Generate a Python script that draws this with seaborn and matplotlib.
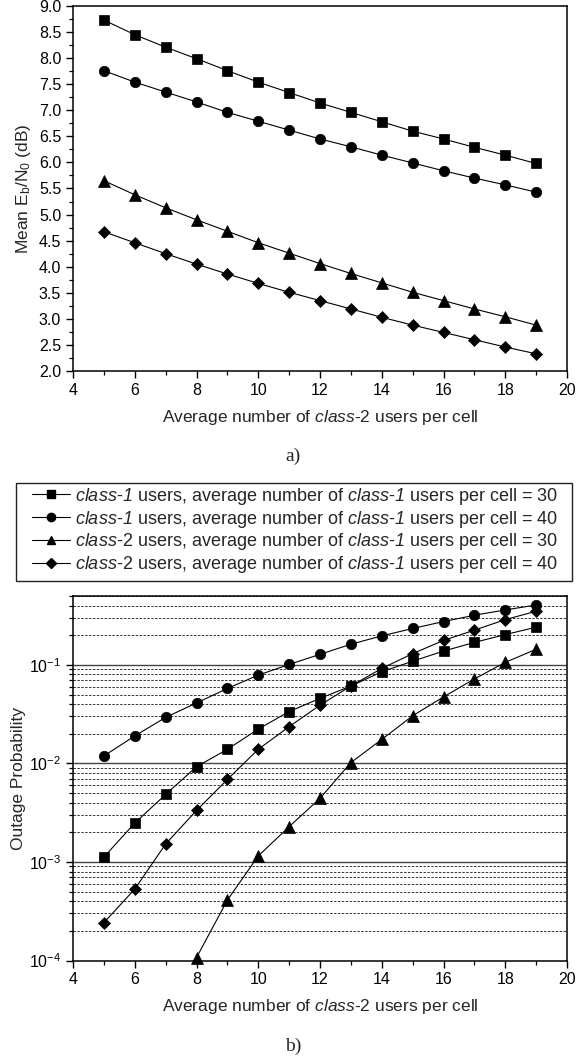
import numpy as np
import pandas as pd
import matplotlib
matplotlib.use("Agg")
import matplotlib.pyplot as plt
import seaborn as sns
from matplotlib.lines import Line2D
from matplotlib.patches import Rectangle
from matplotlib.ticker import MultipleLocator, FixedLocator, NullFormatter, FormatStrFormatter, LogFormatterSciNotation

# ---- data -------------------------------------------------------------
users_class2 = [5, 6, 7, 8, 9, 10, 11, 12, 13, 14, 15, 16, 17, 18, 19]
users_class2_tri = [8, 9, 10, 11, 12, 13, 14, 15, 16, 17, 18, 19]

# mean Eb/N0 (dB)
ebn0_c1_30 = [8.73, 8.45, 8.21, 7.99, 7.76, 7.54, 7.34, 7.14, 6.96, 6.78, 6.60, 6.45, 6.29, 6.14, 5.98]
ebn0_c1_40 = [7.76, 7.54, 7.35, 7.16, 6.96, 6.79, 6.62, 6.45, 6.30, 6.14, 5.99, 5.84, 5.70, 5.57, 5.43]
ebn0_c2_30 = [5.65, 5.38, 5.13, 4.90, 4.68, 4.46, 4.26, 4.06, 3.87, 3.69, 3.51, 3.35, 3.19, 3.04, 2.88]
ebn0_c2_40 = [4.67, 4.46, 4.25, 4.05, 3.86, 3.68, 3.51, 3.35, 3.19, 3.03, 2.88, 2.74, 2.60, 2.46, 2.33]

# outage probability
out_c1_30 = [1.12e-3, 2.48e-3, 4.84e-3, 9.25e-3, 0.0139, 0.0223, 0.0336, 0.0457, 0.061, 0.085,
             0.109, 0.138, 0.169, 0.203, 0.241]
out_c1_40 = [0.0119, 0.0190, 0.0293, 0.0411, 0.0576, 0.0787, 0.101, 0.128, 0.162, 0.197,
             0.234, 0.275, 0.319, 0.361, 0.405]
out_c2_30 = [1.07e-4, 4.1e-4, 1.15e-3, 2.28e-3, 4.42e-3, 0.0102, 0.0175, 0.0304, 0.0473, 0.072,
             0.106, 0.144]
out_c2_40 = [2.42e-4, 5.3e-4, 1.52e-3, 3.33e-3, 6.87e-3, 0.0139, 0.0236, 0.039, 0.061, 0.092,
             0.130, 0.177, 0.225, 0.288, 0.35]

# \mathsf is mapped to the italic face so that digits are slanted as well
series_labels = [
    r"$\mathsf{class}$-$\mathsf{1}$ users, average number of $\mathsf{class}$-$\mathsf{1}$ users per cell = 30",
    r"$\mathsf{class}$-$\mathsf{1}$ users, average number of $\mathsf{class}$-$\mathsf{1}$ users per cell = 40",
    r"$\mathsf{class}$-2 users, average number of $\mathsf{class}$-$\mathsf{1}$ users per cell = 30",
    r"$\mathsf{class}$-2 users, average number of $\mathsf{class}$-$\mathsf{1}$ users per cell = 40",
]
xlabel_text = r"Average number of $\mathsf{class}$-2 users per cell"

# ---- style --------------------------------------------------------------
sns.set_style("ticks")
plt.rcParams["font.family"] = ["Liberation Sans", "DejaVu Sans"]
plt.rcParams["mathtext.fontset"] = "custom"
plt.rcParams["mathtext.rm"] = "Liberation Sans"
plt.rcParams["mathtext.it"] = "Liberation Sans:italic"
plt.rcParams["mathtext.sf"] = "Liberation Sans:italic"
plt.rcParams["mathtext.bf"] = "Liberation Sans:bold"
plt.rcParams["axes.edgecolor"] = "black"
plt.rcParams["axes.linewidth"] = 1.1
plt.rcParams["xtick.color"] = "black"
plt.rcParams["ytick.color"] = "black"

markers = ["s", "o", "^", "D"]
msizes = [6.5, 7.5, 8.0, 6.0]
LW = 0.8
LABEL_FS = 12.5
LEGEND_FS = 13
TICK_FS = 11.5

fig = plt.figure(figsize=(5.77, 10.61), dpi=100)
ax1 = fig.add_axes([73 / 577, 1 - 371 / 1061, 494 / 577, 365 / 1061])
ax2 = fig.add_axes([73 / 577, 1 - 960.5 / 1061, 494 / 577, 364.5 / 1061])

# ---- a) mean Eb/N0 ------------------------------------------------------
top_series = [(users_class2, ebn0_c1_30), (users_class2, ebn0_c1_40),
              (users_class2, ebn0_c2_30), (users_class2, ebn0_c2_40)]
for (xs, ys), m, ms in zip(top_series, markers, msizes):
    sns.lineplot(x=xs, y=ys, ax=ax1, color="black", linewidth=LW, marker=m,
                 markersize=ms, markeredgecolor="black", markeredgewidth=0.5)

ax1.set_xlim(4, 20)
ax1.set_ylim(2.0, 9.0)
ax1.xaxis.set_major_locator(MultipleLocator(2))
ax1.xaxis.set_minor_locator(MultipleLocator(1))
ax1.yaxis.set_major_locator(MultipleLocator(0.5))
ax1.yaxis.set_minor_locator(MultipleLocator(0.25))
ax1.yaxis.set_major_formatter(FormatStrFormatter("%.1f"))
ax1.set_ylabel(r"Mean E$_\mathregular{b}$/N$_\mathregular{0}$ (dB)", fontsize=LABEL_FS, labelpad=4)
ax1.set_xlabel(xlabel_text, fontsize=LABEL_FS, labelpad=7)

# ---- b) outage probability -------------------------------------------------
bottom_series = [(users_class2, out_c1_30), (users_class2, out_c1_40),
                 (users_class2_tri, out_c2_30), (users_class2, out_c2_40)]
for (xs, ys), m, ms in zip(bottom_series, markers, msizes):
    sns.lineplot(x=xs, y=ys, ax=ax2, color="black", linewidth=LW, marker=m,
                 markersize=ms, markeredgecolor="black", markeredgewidth=0.5,
                 clip_on=False, zorder=5)

ax2.set_yscale("log")
ax2.set_xlim(4, 20)
ax2.set_ylim(1e-4, 0.5)
ax2.xaxis.set_major_locator(MultipleLocator(2))
ax2.xaxis.set_minor_locator(MultipleLocator(1))
decades = [1e-4, 1e-3, 1e-2, 1e-1]
minors = [m * d for d in decades for m in range(2, 10) if m * d <= 0.5]
ax2.yaxis.set_major_locator(FixedLocator(decades))
ax2.yaxis.set_minor_locator(FixedLocator(minors))
ax2.yaxis.set_major_formatter(LogFormatterSciNotation())
ax2.yaxis.set_minor_formatter(NullFormatter())
for d in decades[1:]:
    ax2.axhline(d, color="#444444", linewidth=1.0, zorder=1)
for v in minors:
    ax2.axhline(v, color="#333333", linewidth=0.7, linestyle=(0, (2.5, 1.5)), zorder=1)
ax2.set_ylabel("Outage Probability", fontsize=LABEL_FS, labelpad=2)
ax2.set_xlabel(xlabel_text, fontsize=LABEL_FS, labelpad=7)

for ax in (ax1, ax2):
    ax.tick_params(which="major", direction="out", length=5, width=1.0, labelsize=TICK_FS,
                   top=False, right=False)
    ax.tick_params(which="minor", direction="out", length=3, width=0.9, top=False, right=False)
    for sp in ax.spines.values():
        sp.set_visible(True)
        sp.set_color("black")
    ax.set_facecolor("white")

# ---- shared legend ----------------------------------------------------------
handles = [Line2D([], [], color="black", linewidth=LW, marker=m, markersize=ms * 0.8,
                  markeredgecolor="black") for m, ms in zip(markers, msizes)]
fig.patches.append(Rectangle((16 / 577, 1 - 581 / 1061), 556 / 577, 98 / 1061,
                             transform=fig.transFigure, fill=False, edgecolor="#222222",
                             linewidth=1.0))
fig.legend(handles, series_labels, loc="center left", bbox_to_anchor=(32 / 577, 1 - 530.5 / 1061),
           frameon=False, fontsize=LEGEND_FS, handlelength=2.1, handletextpad=0.3,
           borderpad=0, borderaxespad=0, labelspacing=0.1)

# ---- panel captions ------------------------------------------------------------
fig.text(293 / 577, 1 - 456 / 1061, "a)", ha="center", va="center", fontsize=14,
         family="Liberation Serif")
fig.text(293 / 577, 1 - 1046 / 1061, "b)", ha="center", va="center", fontsize=14,
         family="Liberation Serif")

fig.savefig("out.png", dpi=100, facecolor="white")
